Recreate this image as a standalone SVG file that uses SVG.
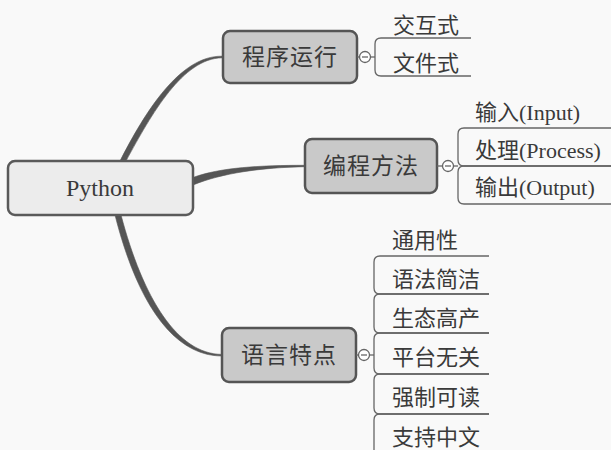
<svg xmlns="http://www.w3.org/2000/svg" width="611" height="450" viewBox="0 0 611 450">
<style>
.bg{fill:#f9f9f9}
.main{fill:#c9c9c9;stroke:#555;stroke-width:2.5}
.root{fill:#ececec;stroke:#5a5a5a;stroke-width:2.5}
.conn{fill:#555;stroke:#555;stroke-width:0.6}
.br{fill:none;stroke:#666;stroke-width:1.3}
.tog{fill:#fff;stroke:#666;stroke-width:1.3}
.t{font-family:"Liberation Serif","Noto Sans CJK SC",serif;fill:#3a3a3a;dominant-baseline:central}
.tm{font-size:23px;text-anchor:middle;letter-spacing:1px}
.tr{font-size:24px;text-anchor:middle}
.tc{font-size:22px}
</style>
<rect class="bg" x="0" y="0" width="611" height="450"/>
<g id="connectors">
<path class="conn" d="M120,161 C145,112 180,55.5 222,56.2 L222,57.8 C183,58.5 152,113 126,161 Z"/>
<path class="conn" d="M193,177.5 C220,167.5 260,165.3 305,165.3 L305,166.7 C262,167.5 222,173 193,185 Z"/>
<path class="conn" d="M115,215 C137,302 173,356 222,356 L222,354.4 C177,354 143,298 121,215 Z"/>
</g>
<g id="python">
<rect class="root" x="8" y="161" width="185" height="54" rx="7"/>
<text class="t tr" x="100" y="188">Python</text>
</g>
<g id="node-run">
<rect class="main" x="223" y="31" width="134" height="52" rx="7"/>
<text class="t tm" x="290" y="57">程序运行</text>
<line class="br" x1="357" y1="57" x2="375" y2="57"/>
<circle class="tog" cx="365" cy="57" r="5.5"/>
<line class="br" x1="362" y1="57" x2="368" y2="57"/>
<path class="br" d="M471,38 H381 Q375,38 375,44 V70 Q375,76 381,76 H471"/>
<text class="t tc" x="393" y="25">交互式</text>
<text class="t tc" x="393" y="63">文件式</text>
</g>
<g id="node-method">
<rect class="main" x="305" y="139" width="132" height="54" rx="7"/>
<text class="t tm" x="371" y="166">编程方法</text>
<line class="br" x1="437" y1="166" x2="458" y2="166"/>
<circle class="tog" cx="448" cy="166" r="5.5"/>
<line class="br" x1="445" y1="166" x2="451" y2="166"/>
<path class="br" d="M611,128 H464 Q458,128 458,134 V160 Q458,166 464,166 H611"/>
<path class="br" d="M611,166 H464 Q458,166 458,172 V198 Q458,204 464,204 H611"/>
<text class="t tc" x="475" y="112">输入(Input)</text>
<text class="t tc" x="475" y="150">处理(Process)</text>
<text class="t tc" x="475" y="187">输出(Output)</text>
</g>
<g id="node-features">
<rect class="main" x="222" y="328" width="134" height="54" rx="7"/>
<text class="t tm" x="289" y="355">语言特点</text>
<line class="br" x1="356" y1="355" x2="374" y2="355"/>
<circle class="tog" cx="364" cy="355" r="5.5"/>
<line class="br" x1="361" y1="355" x2="367" y2="355"/>
<path class="br" d="M489,256 H380 Q374,256 374,262 V288 Q374,294 380,294 H489"/>
<path class="br" d="M489,294 H380 Q374,294 374,300 V327 Q374,333 380,333 H489"/>
<path class="br" d="M489,333 H380 Q374,333 374,339 V368 Q374,374 380,374 H489"/>
<path class="br" d="M489,374 H380 Q374,374 374,380 V408 Q374,414 380,414 H489"/>
<path class="br" d="M489,414 H380 Q374,414 374,420 V452"/>
<text class="t tc" x="392" y="240">通用性</text>
<text class="t tc" x="392" y="279">语法简洁</text>
<text class="t tc" x="392" y="318">生态高产</text>
<text class="t tc" x="392" y="357">平台无关</text>
<text class="t tc" x="392" y="397">强制可读</text>
<text class="t tc" x="392" y="437">支持中文</text>
</g>
</svg>
